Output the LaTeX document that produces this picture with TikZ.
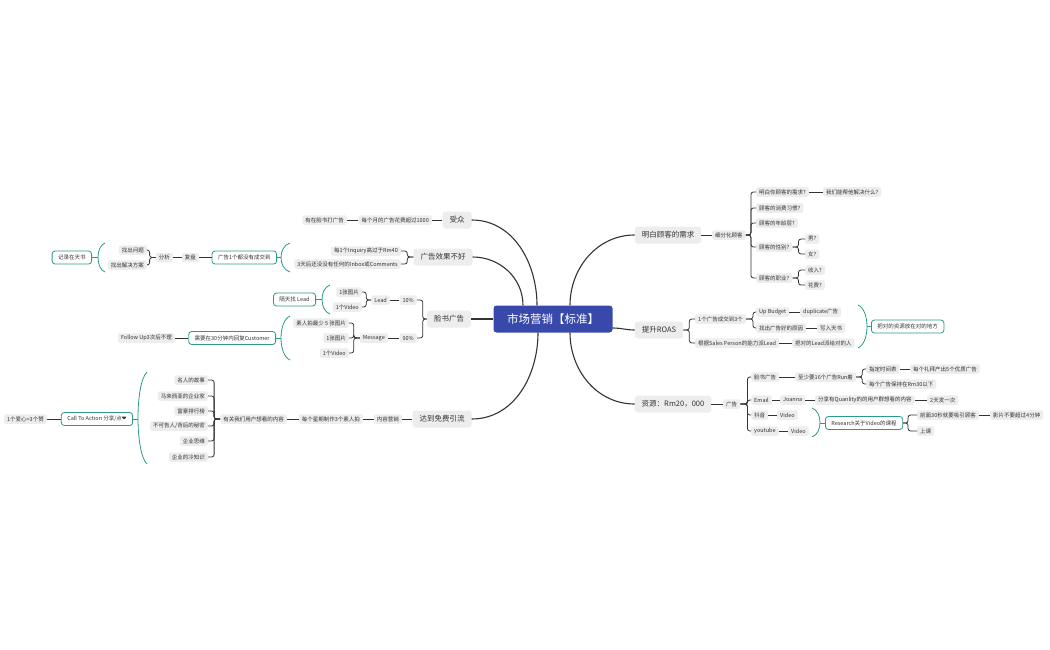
\documentclass[tikz,border=0pt]{standalone}
\usepackage{fontspec}
\setmainfont{Noto Sans CJK SC}
\newfontfamily\symfont{DejaVu Sans}
\definecolor{rootblue}{HTML}{3949AB}
\definecolor{nodegray}{HTML}{EDEDED}
\definecolor{sumteal}{HTML}{2B9A8C}
\definecolor{ink}{HTML}{333333}
\tikzset{
 rootnode/.style={fill=rootblue, text=white, rounded corners=3pt, font=\fontsize{11.5}{13}\selectfont, inner xsep=13.5pt, inner ysep=0pt, minimum height=27pt},
 topic/.style={fill=nodegray, text=ink, rounded corners=3pt, font=\fontsize{7.5}{9}\selectfont, inner xsep=7pt, inner ysep=0pt, minimum height=17pt},
 sub/.style={fill=nodegray, text=ink, rounded corners=2pt, font=\fontsize{5.5}{6.5}\selectfont, inner xsep=3pt, inner ysep=0pt, minimum height=9.5pt},
 summ/.style={fill=white, draw=sumteal, line width=0.8pt, text=ink, rounded corners=3pt, font=\fontsize{5.5}{6.5}\selectfont, inner xsep=6pt, inner ysep=0pt, minimum height=13pt},
 conn/.style={draw=ink, line width=0.8pt, rounded corners=2.5pt},
 mainconn/.style={draw=ink, line width=1.1pt},
 sumline/.style={draw=sumteal, line width=0.8pt},
 lft/.style={anchor=east}, rgt/.style={anchor=west}
}
\newcommand\kidL[3][6]{\draw[conn] (#2.west) -- ([xshift=-#1pt]#2.west) |- (#3.east);}
\newcommand\kidR[3][6]{\draw[conn] (#2.east) -- ([xshift=#1pt]#2.east) |- (#3.west);}
\newcommand\sumbrace[4]{\draw[sumline] ({#1},{-(#3)}) .. controls ({#1+(#2-#1)*4/3},{-(#3+0.12*(#4-#3))}) and ({#1+(#2-#1)*4/3},{-(#4-0.12*(#4-#3))}) .. ({#1},{-(#4)});}
\begin{document}
\begin{tikzpicture}[x=1pt,y=1pt]
\useasboundingbox (0,0) rectangle (1050,-650);
\node[rootnode] (root) at (553,-319) {市场营销【标准】};
% topics
\node[topic] (tA) at (457,-220) {受众};
\node[topic] (tB) at (443,-257) {广告效果不好};
\node[topic] (tC) at (449,-319) {脸书广告};
\node[topic] (tD) at (442,-419) {达到免费引流};
\node[topic] (tE) at (668,-235) {明白顾客的需求};
\node[topic] (tF) at (659,-330) {提升ROAS};
\node[topic] (tG) at (673,-404) {资源：Rm20，000};
\draw[mainconn] ([xshift=-16pt]root.north) to[out=90,in=0] (tA.east);
\draw[mainconn] ([xshift=-30pt]root.north) to[out=90,in=0] (tB.east);
\draw[mainconn] (root.west) -- (tC.east);
\draw[mainconn] ([xshift=-15pt]root.south) to[out=-90,in=0] (tD.east);
\draw[mainconn] ([xshift=17pt]root.north) to[out=90,in=180] (tE.west);
\draw[mainconn] ([yshift=-9pt]root.east) to[out=0,in=180] (tF.west);
\draw[mainconn] ([xshift=17pt]root.south) to[out=-90,in=180] (tG.west);
% A
\node[sub,lft] (a1) at (432,-220) {每个月的广告花费超过1000};
\node[sub,lft] (a2) at (347,-220) {有在脸书打广告};
\draw[conn] (tA.west) -- (a1.east);
\draw[conn] (a1.west) -- (a2.east);
% B
\node[sub,lft] (b1) at (401,-251) {每1个Inquiry高过于Rm40};
\node[sub,lft] (b2) at (401,-264) {3天后还没没有任何的Inbox或Comments};
\kidL[6]{tB}{b1}\kidL[6]{tB}{b2}
\sumbrace{290}{281}{243}{272}
\coordinate (bB) at (281,-257.5);
\node[summ,lft] (sB) at (277,-257.5) {广告1个都没有成交到};
\draw[sumline] (bB) -- (sB.east);
\node[sub,lft] (c1) at (199,-257.5) {复盘};
\node[sub,lft] (c2) at (173,-257.5) {分析};
\draw[conn] (sB.west) -- (c1.east);
\draw[conn] (c1.west) -- (c2.east);
\node[sub,lft] (c3) at (147,-250) {找出问题};
\node[sub,lft] (c4) at (147,-265) {找出解决方案};
\kidL[6]{c2}{c3}\kidL[6]{c2}{c4}
\sumbrace{105}{98}{243}{272}
\coordinate (bC) at (98,-257.5);
\node[summ,lft] (sC) at (92,-257.5) {记录在天书};
\draw[sumline] (bC) -- (sC.east);
% C
\node[sub,lft] (d1) at (417,-300) {10\%};
\node[sub,lft] (d2) at (417,-338) {90\%};
\kidL[4]{tC}{d1}\kidL[4]{tC}{d2}
\node[sub,lft] (d3) at (390,-300) {Lead};
\draw[conn] (d1.west) -- (d3.east);
\node[sub,lft] (d4) at (362,-292) {1张图片};
\node[sub,lft] (d5) at (362,-307) {1个Video};
\kidL[5]{d3}{d4}\kidL[5]{d3}{d5}
\sumbrace{330}{322}{285}{314}
\coordinate (bD) at (322,-299.5);
\node[summ,lft] (sD) at (316,-299.5) {隔天找 Lead};
\draw[sumline] (bD) -- (sD.east);
\node[sub,lft] (d6) at (388,-338) {Message};
\draw[conn] (d2.west) -- (d6.east);
\node[sub,lft] (d7) at (349,-323) {素人拍最少 5 张图片};
\node[sub,lft] (d8) at (349,-338) {1张图片};
\node[sub,lft] (d9) at (349,-353) {1个Video};
\kidL[6]{d6}{d7}\kidL[6]{d6}{d8}\kidL[6]{d6}{d9}
\sumbrace{290}{281}{316}{360}
\coordinate (bE) at (281,-338);
\node[summ,lft] (sE) at (276,-338) {需要在30分钟内回复Customer};
\draw[sumline] (bE) -- (sE.east);
\node[sub,lft] (d10) at (175,-338) {Follow Up3次后不理};
\draw[conn] (sE.west) -- (d10.east);
% D
\node[sub,lft] (e1) at (402,-419) {内容营销};
\node[sub,lft] (e2) at (363,-419) {每个星期制作3个素人拍};
\node[sub,lft] (e3) at (287,-419) {有关我们用户想看的内容};
\draw[conn] (tD.west) -- (e1.east);
\draw[conn] (e1.west) -- (e2.east);
\draw[conn] (e2.west) -- (e3.east);
\node[sub,lft] (e4) at (208,-380) {名人的故事};
\node[sub,lft] (e5) at (208,-396) {马来西亚的企业家};
\node[sub,lft] (e6) at (208,-411) {富豪排行榜};
\node[sub,lft] (e7) at (208,-426) {不可告人/背后的秘密};
\node[sub,lft] (e8) at (208,-441) {企业思维};
\node[sub,lft] (e9) at (208,-457) {企业的冷知识};
\kidL[6]{e3}{e4}\kidL[6]{e3}{e5}\kidL[6]{e3}{e6}\kidL[6]{e3}{e7}\kidL[6]{e3}{e8}\kidL[6]{e3}{e9}
\sumbrace{147}{138}{372}{464}
\coordinate (bF) at (138,-419);
\node[summ,lft] (sF) at (133,-419) {Call To Action 分享/点{\symfont ❤}};
\draw[sumline] (bF) -- (sF.east);
\node[sub,lft] (e10) at (47,-419) {1个爱心=3个赞};
\draw[conn] (sF.west) -- (e10.east);
% E
\node[sub,rgt] (f1) at (712,-235) {细分化顾客};
\draw[conn] (tE.east) -- (f1.west);
\node[sub,rgt] (f2) at (756,-192) {明白你顾客的需求?};
\node[sub,rgt] (f3) at (823,-192) {我们能帮他解决什么?};
\node[sub,rgt] (f4) at (756,-208) {顾客的消费习惯?};
\node[sub,rgt] (f5) at (756,-223) {顾客的年龄层?};
\node[sub,rgt] (f6) at (756,-247) {顾客的性别?};
\node[sub,rgt] (f7) at (805,-239) {男?};
\node[sub,rgt] (f8) at (805,-254) {女?};
\node[sub,rgt] (f9) at (756,-278) {顾客的职业?};
\node[sub,rgt] (f10) at (805,-270) {收入?};
\node[sub,rgt] (f11) at (805,-285) {花费?};
\kidR[5]{f1}{f2}\kidR[5]{f1}{f4}\kidR[5]{f1}{f5}\kidR[5]{f1}{f6}\kidR[5]{f1}{f9}
\draw[conn] (f2.east) -- (f3.west);
\kidR[6]{f6}{f7}\kidR[6]{f6}{f8}
\kidR[6]{f9}{f10}\kidR[6]{f9}{f11}
% F
\node[sub,rgt] (g1) at (695,-319) {1个广告成交到3个};
\node[sub,rgt] (g2) at (695,-343) {根据Sales Person的能力派Lead};
\kidR[6]{tF}{g1}\kidR[6]{tF}{g2}
\node[sub,rgt] (g3) at (756,-312) {Up Budget};
\node[sub,rgt] (g4) at (756,-328) {找出广告好的原因};
\kidR[7]{g1}{g3}\kidR[7]{g1}{g4}
\node[sub,rgt] (g5) at (800,-312) {duplicate广告};
\node[sub,rgt] (g6) at (817,-328) {写入天书};
\node[sub,rgt] (g7) at (792,-343) {把对的Lead派给对的人};
\draw[conn] (g3.east) -- (g5.west);
\draw[conn] (g4.east) -- (g6.west);
\draw[conn] (g2.east) -- (g7.west);
\sumbrace{858}{867}{305}{348}
\coordinate (bG) at (867,-326.5);
\node[summ,rgt] (sG) at (871,-326.5) {把对的资源放在对的地方};
\draw[sumline] (bG) -- (sG.west);
% G
\node[sub,rgt] (h1) at (723,-404) {广告};
\draw[conn] (tG.east) -- (h1.west);
\node[sub,rgt] (h2) at (751,-377) {脸书广告};
\node[sub,rgt] (h7) at (751,-400) {Email};
\node[sub,rgt] (h11) at (751,-415) {抖音};
\node[sub,rgt] (h13) at (751,-431) {youtube};
\kidR[7]{h1}{h2}\kidR[7]{h1}{h7}\kidR[7]{h1}{h11}\kidR[7]{h1}{h13}
\node[sub,rgt] (h3) at (795,-377) {至少要16个广告Run着};
\draw[conn] (h2.east) -- (h3.west);
\node[sub,rgt] (h4) at (866,-369) {指定时间表};
\node[sub,rgt] (h6) at (866,-384) {每个广告保持在Rm30以下};
\kidR[6]{h3}{h4}\kidR[6]{h3}{h6}
\node[sub,rgt] (h5) at (910,-369) {每个礼拜产出5个优质广告};
\draw[conn] (h4.east) -- (h5.west);
\node[sub,rgt] (h8) at (780,-400) {Joanna};
\node[sub,rgt] (h9) at (815,-400) {分享有Quanlity的的用户群想看的内容};
\node[sub,rgt] (h10) at (927,-400) {2天发一次};
\draw[conn] (h7.east) -- (h8.west);
\draw[conn] (h8.east) -- (h9.west);
\draw[conn] (h9.east) -- (h10.west);
\node[sub,rgt] (h12) at (777,-415) {Video};
\node[sub,rgt] (h14) at (788,-431) {Video};
\draw[conn] (h11.east) -- (h12.west);
\draw[conn] (h13.east) -- (h14.west);
\sumbrace{812}{820}{408}{437}
\coordinate (bH) at (820,-423);
\node[summ,rgt] (sH) at (825,-423) {Research关于Video的课程};
\draw[sumline] (bH) -- (sH.west);
\node[sub,rgt] (h15) at (917,-415) {前面30秒就要吸引顾客};
\node[sub,rgt] (h17) at (917,-431) {上课};
\kidR[5]{sH}{h15}\kidR[5]{sH}{h17}
\node[sub,rgt] (h16) at (990,-415) {影片不要超过4分钟};
\draw[conn] (h15.east) -- (h16.west);
\end{tikzpicture}
\end{document}
